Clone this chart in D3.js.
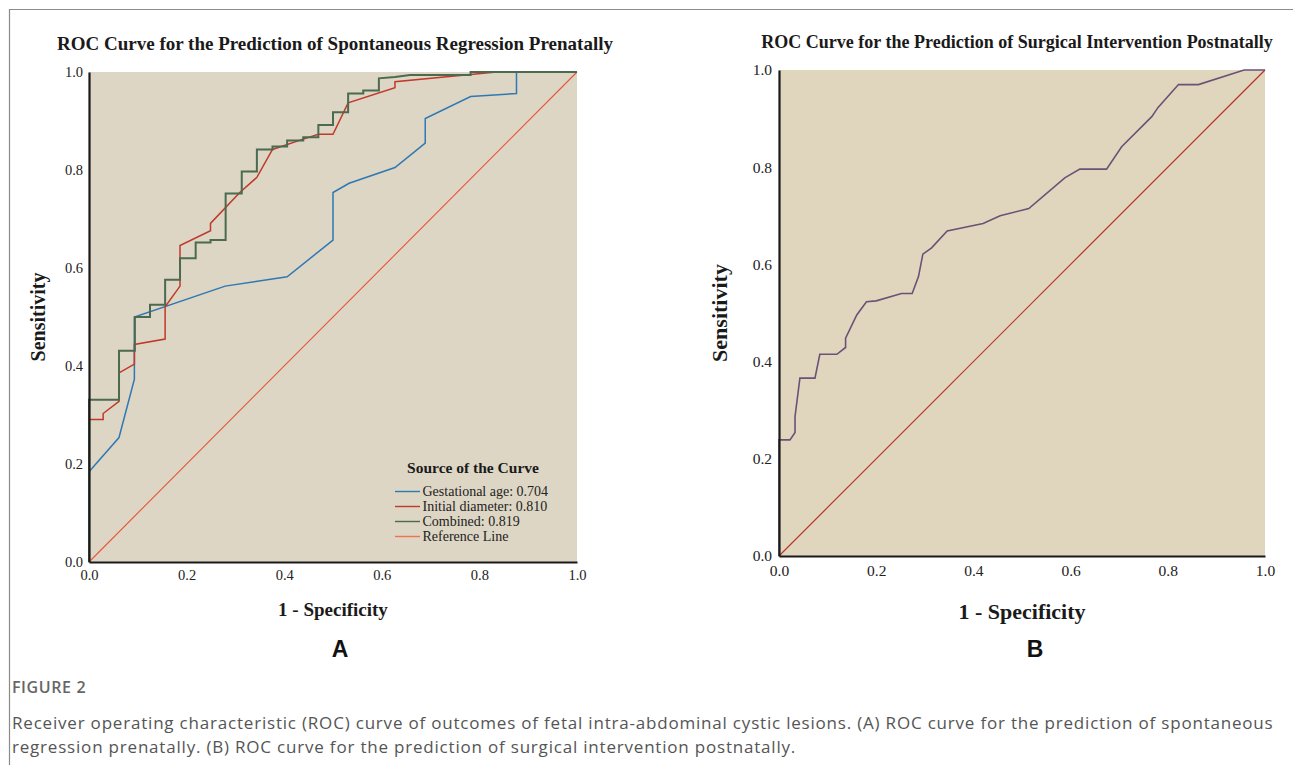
<!DOCTYPE html>
<html>
<head>
<meta charset="utf-8">
<script src="https://cdn.jsdelivr.net/npm/d3@7"></script>
<style>
  body { margin: 0; background: #fff; }
  svg { display: block; }
  .serif { font-family: "Liberation Serif", "Times New Roman", serif; }
</style>
</head>
<body>
<svg id="fig" width="1293" height="765"></svg>
<script>
'use strict';

// ---- data ----
const tickValues = [0, 0.2, 0.4, 0.6, 0.8, 1.0];

// Panel A: spontaneous regression prenatally
const gestFpr = [0, 0, 0.0615, 0.093, 0.093, 0.279, 0.406, 0.50, 0.50, 0.533, 0.627, 0.689, 0.689, 0.782, 0.876, 0.876, 1.0];
const gestTpr = [0, 0.184, 0.254, 0.373, 0.50, 0.563, 0.582, 0.657, 0.754, 0.773, 0.805, 0.855, 0.905, 0.95, 0.956, 1.0, 1.0];

const diamFpr = [0, 0, 0.029, 0.029, 0.0615, 0.0615, 0.093, 0.093, 0.156, 0.156, 0.1865, 0.1865, 0.249, 0.249, 0.309, 0.344, 0.376, 0.439, 0.47, 0.50, 0.531, 0.627, 0.627, 0.835, 1.0];
const diamTpr = [0, 0.291, 0.291, 0.303, 0.328, 0.386, 0.404, 0.444, 0.455, 0.521, 0.563, 0.646, 0.676, 0.691, 0.754, 0.785, 0.842, 0.863, 0.873, 0.873, 0.937, 0.968, 0.98, 1.0, 1.0];

const combFpr = [0, 0, 0.0615, 0.0615, 0.094, 0.094, 0.125, 0.125, 0.156, 0.156, 0.1865, 0.1865, 0.2186, 0.2186, 0.249, 0.249, 0.280, 0.280, 0.313, 0.313, 0.344, 0.344, 0.376, 0.376, 0.406, 0.406, 0.439, 0.439, 0.47, 0.47, 0.50, 0.50, 0.531, 0.531, 0.562, 0.562, 0.594, 0.594, 0.627, 0.658, 0.782, 0.782, 1.0];
const combTpr = [0, 0.331, 0.331, 0.431, 0.431, 0.50, 0.50, 0.525, 0.525, 0.576, 0.576, 0.62, 0.62, 0.652, 0.652, 0.657, 0.657, 0.752, 0.752, 0.797, 0.797, 0.842, 0.842, 0.848, 0.848, 0.860, 0.860, 0.867, 0.867, 0.892, 0.892, 0.918, 0.918, 0.956, 0.956, 0.962, 0.962, 0.987, 0.99, 0.994, 0.994, 1.0, 1.0];

const legendLabels = ['Gestational age: 0.704', 'Initial diameter: 0.810', 'Combined: 0.819', 'Reference Line'];

// Panel B: surgical intervention postnatally
const surgFpr = [0, 0, 0.0226, 0.033, 0.033, 0.043, 0.074, 0.084, 0.119, 0.137, 0.137, 0.16, 0.18, 0.20, 0.252, 0.274, 0.287, 0.296, 0.314, 0.346, 0.42, 0.455, 0.514, 0.588, 0.619, 0.674, 0.705, 0.767, 0.78, 0.822, 0.863, 0.957, 1.0];
const surgTpr = [0, 0.239, 0.239, 0.254, 0.287, 0.366, 0.366, 0.415, 0.415, 0.429, 0.448, 0.496, 0.523, 0.525, 0.54, 0.54, 0.575, 0.621, 0.634, 0.669, 0.684, 0.70, 0.715, 0.778, 0.796, 0.796, 0.842, 0.904, 0.923, 0.97, 0.97, 1.0, 1.0];

const refFpr = [0, 1];
const refTpr = [0, 1];

const zip = (xs, ys) => xs.map((x, i) => [x, ys[i]]);

const svg = d3.select('#fig');

// figure frame (top and left rule)
svg.append('line').attr('x1', 9).attr('y1', 9.5).attr('x2', 1293).attr('y2', 9.5)
    .attr('stroke', '#8a8a8a').attr('stroke-width', 1.2);
svg.append('line').attr('x1', 9.5).attr('y1', 9).attr('x2', 9.5).attr('y2', 765)
    .attr('stroke', '#8a8a8a').attr('stroke-width', 1.2);

function drawPanel(cfg) {
    const x = d3.scaleLinear().domain([0, 1]).range([cfg.left, cfg.right]);
    const y = d3.scaleLinear().domain([0, 1]).range([cfg.bottom, cfg.top]);
    const g = svg.append('g');

    g.append('rect')
        .attr('x', cfg.left).attr('y', cfg.top)
        .attr('width', cfg.right - cfg.left).attr('height', cfg.bottom - cfg.top)
        .attr('fill', cfg.bg);

    const line = d3.line().x(d => x(d[0])).y(d => y(d[1]));

    cfg.series.forEach(s => {
        g.append('path')
            .datum(zip(s.fpr, s.tpr))
            .attr('d', line)
            .attr('fill', 'none')
            .attr('stroke', s.color)
            .attr('stroke-width', s.width)
            .attr('stroke-linejoin', 'miter');
    });

    const fmt = d3.format('.1f');
    const yAxis = g.append('g')
        .attr('transform', `translate(${cfg.left},0)`)
        .call(d3.axisLeft(y).tickValues(tickValues).tickSize(0).tickPadding(cfg.pad).tickFormat(fmt));
    const xAxis = g.append('g')
        .attr('transform', `translate(0,${cfg.bottom})`)
        .call(d3.axisBottom(x).tickValues(tickValues).tickSize(0).tickPadding(cfg.pad + 2).tickFormat(fmt));

    [yAxis, xAxis].forEach(ax => {
        ax.select('.domain').attr('stroke', '#1a1a1a').attr('stroke-width', 2.2);
        ax.selectAll('text')
            .attr('class', 'serif')
            .style('font-size', cfg.tickSize + 'px')
            .attr('fill', '#222');
    });

    // titles
    g.append('text').attr('class', 'serif')
        .attr('x', cfg.titleX).attr('y', cfg.titleY)
        .attr('text-anchor', 'middle')
        .style('font-size', cfg.titleSize + 'px').style('font-weight', 'bold')
        .attr('fill', '#1a1a1a')
        .text(cfg.title);

    g.append('text').attr('class', 'serif')
        .attr('transform', `translate(${cfg.yLabX},${cfg.yLabY}) rotate(-90)`)
        .attr('text-anchor', 'middle')
        .style('font-size', cfg.labSize + 'px').style('font-weight', 'bold')
        .attr('fill', '#1a1a1a')
        .text('Sensitivity');

    g.append('text').attr('class', 'serif')
        .attr('x', cfg.xLabX).attr('y', cfg.xLabY)
        .attr('text-anchor', 'middle')
        .style('font-size', cfg.xLabSize + 'px').style('font-weight', 'bold')
        .attr('fill', '#1a1a1a')
        .text('1 - Specificity');

    g.append('text')
        .attr('x', cfg.letterX).attr('y', 657)
        .attr('text-anchor', 'middle')
        .style('font-family', '"Liberation Sans", Arial, sans-serif')
        .style('font-size', '23px').style('font-weight', 'bold')
        .attr('fill', '#111')
        .text(cfg.letter);

    return { x, y, g };
}

const colGest = '#2f78b4';
const colDiam = '#c0392b';
const colComb = '#4b6a4f';
const colRefA = '#e9533b';

const panelA = drawPanel({
    left: 89, right: 577, top: 72, bottom: 562,
    bg: '#ddd6c4', pad: 6, tickSize: 14.5,
    title: 'ROC Curve for the Prediction of Spontaneous Regression Prenatally',
    titleX: 335, titleY: 50, titleSize: 19,
    yLabX: 45, yLabY: 317, labSize: 20,
    xLabX: 333, xLabY: 616, xLabSize: 19,
    letter: 'A', letterX: 340,
    series: [
        { fpr: refFpr, tpr: refTpr, color: colRefA, width: 1.1 },
        { fpr: gestFpr, tpr: gestTpr, color: colGest, width: 1.5 },
        { fpr: diamFpr, tpr: diamTpr, color: colDiam, width: 1.5 },
        { fpr: combFpr, tpr: combTpr, color: colComb, width: 2 }
    ]
});

// legend for panel A
const legColors = [colGest, colDiam, colComb, '#ef7350'];
const lg = panelA.g.append('g');
lg.append('text').attr('class', 'serif')
    .attr('x', 473).attr('y', 473)
    .attr('text-anchor', 'middle')
    .style('font-size', '15.5px').style('font-weight', 'bold')
    .attr('fill', '#1a1a1a')
    .text('Source of the Curve');
legendLabels.forEach((lab, i) => {
    const yy = 491.5 + i * 15;
    lg.append('line')
        .attr('x1', 395).attr('x2', 420).attr('y1', yy).attr('y2', yy)
        .attr('stroke', legColors[i]).attr('stroke-width', 1.4);
    lg.append('text').attr('class', 'serif')
        .attr('x', 422.5).attr('y', yy + 4.5)
        .style('font-size', '14px')
        .attr('fill', '#222')
        .text(lab);
});

drawPanel({
    left: 779, right: 1265, top: 70, bottom: 556,
    bg: '#e0d6bd', pad: 7, tickSize: 15.5,
    title: 'ROC Curve for the Prediction of Surgical Intervention Postnatally',
    titleX: 1017, titleY: 48, titleSize: 18,
    yLabX: 727, yLabY: 313, labSize: 22,
    xLabX: 1022, xLabY: 619, xLabSize: 22,
    letter: 'B', letterX: 1035,
    series: [
        { fpr: refFpr, tpr: refTpr, color: '#b8352c', width: 1.2 },
        { fpr: surgFpr, tpr: surgTpr, color: '#6a5277', width: 1.6 }
    ]
});

// caption
const cap = svg.append('g').style('font-family', '"Open Sans", "Noto Sans", sans-serif');
cap.append('text').attr('x', 12).attr('y', 693)
    .style('font-size', '16px').style('font-weight', 600).style('letter-spacing', '0.6px')
    .attr('fill', '#666')
    .text('FIGURE 2');
cap.append('text').attr('x', 12).attr('y', 729)
    .style('font-size', '17px').style('letter-spacing', '0.8px').attr('fill', '#555')
    .text('Receiver operating characteristic (ROC) curve of outcomes of fetal intra-abdominal cystic lesions. (A) ROC curve for the prediction of spontaneous');
cap.append('text').attr('x', 12).attr('y', 753)
    .style('font-size', '17px').style('letter-spacing', '0.8px').attr('fill', '#555')
    .text('regression prenatally. (B) ROC curve for the prediction of surgical intervention postnatally.');
</script>
</body>
</html>
